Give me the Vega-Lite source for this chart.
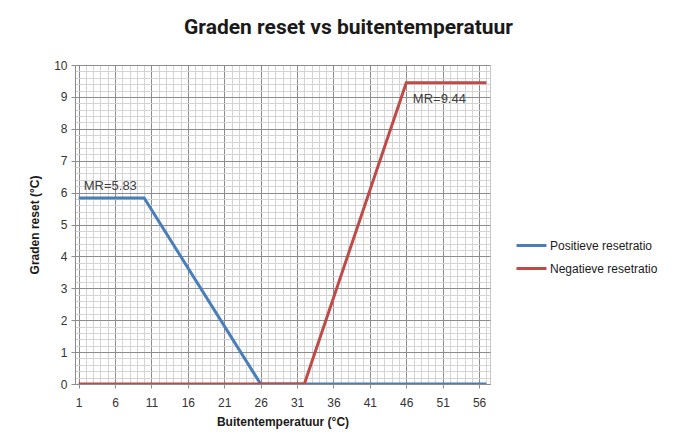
{
  "$schema": "https://vega.github.io/schema/vega-lite/v6.json",
  "width": 415,
  "height": 319,
  "autosize": {"type": "none"},
  "padding": {"left": 75, "top": 65, "right": 185, "bottom": 59},
  "background": "white",
  "title": {
    "text": "Graden reset vs buitentemperatuur",
    "font": "Roboto",
    "fontSize": 21,
    "fontWeight": "bold",
    "color": "#1a1a1a",
    "anchor": "middle",
    "frame": "group",
    "dx": 66,
    "offset": 21
  },
  "config": {
    "view": {"stroke": "#c8c8c8", "strokeWidth": 1},
    "axis": {
      "labelFont": "Liberation Sans",
      "labelFontSize": 12,
      "labelColor": "#333333",
      "titleFont": "Liberation Sans",
      "titleFontSize": 12,
      "titleFontWeight": "bold",
      "titleColor": "#1a1a1a",
      "domainColor": "#8c8c8c",
      "tickColor": "#8c8c8c"
    }
  },
  "datasets": {
    "lines": [
      {"temp": 1, "reset": 5.83, "serie": "Positieve resetratio"},
      {"temp": 10, "reset": 5.83, "serie": "Positieve resetratio"},
      {"temp": 26, "reset": 0, "serie": "Positieve resetratio"},
      {"temp": 57, "reset": 0, "serie": "Positieve resetratio"},
      {"temp": 1, "reset": 0, "serie": "Negatieve resetratio"},
      {"temp": 32, "reset": 0, "serie": "Negatieve resetratio"},
      {"temp": 46, "reset": 9.44, "serie": "Negatieve resetratio"},
      {"temp": 57, "reset": 9.44, "serie": "Negatieve resetratio"}
    ],
    "labels": [
      {"temp": 1.7, "reset": 6.2, "label": "MR=5.83"},
      {"temp": 46.9, "reset": 8.93, "label": "MR=9.44"}
    ]
  },
  "layer": [
    {
      "data": {"name": "lines"},
      "mark": {"type": "line", "strokeWidth": 3, "clip": true},
      "encoding": {
        "x": {
          "field": "temp",
          "type": "quantitative",
          "scale": {"domain": [0.5, 57.5], "nice": false, "zero": false},
          "axis": {
            "title": "Buitentemperatuur (°C)",
            "values": [1,2,3,4,5,6,7,8,9,10,11,12,13,14,15,16,17,18,19,20,21,22,23,24,25,26,27,28,29,30,31,32,33,34,35,36,37,38,39,40,41,42,43,44,45,46,47,48,49,50,51,52,53,54,55,56,57],
            "tickCount": 200,
            "labelExpr": "(datum.value - 1) % 5 === 0 ? format(datum.value, 'd') : ''",
            "labelPadding": 9,
            "labelFlush": false,
            "labelOverlap": false,
            "tickSize": 4,
            "tickColor": {"condition": {"test": "(datum.value - 1) % 5 === 0", "value": "#8c8c8c"}, "value": "transparent"},
            "gridColor": {"condition": {"test": "(datum.value - 1) % 5 === 0", "value": "#8c8c8c"}, "value": "#d4d4d4"},
            "gridWidth": 1,
            "gridOpacity": 1,
            "titlePadding": 8
          }
        },
        "y": {
          "field": "reset",
          "type": "quantitative",
          "scale": {"domain": [0, 10], "nice": false},
          "axis": {
            "title": "Graden reset (°C)",
            "values": [0,0.2,0.4,0.6,0.8,1,1.2,1.4,1.6,1.8,2,2.2,2.4,2.6,2.8,3,3.2,3.4,3.6,3.8,4,4.2,4.4,4.6,4.8,5,5.2,5.4,5.6,5.8,6,6.2,6.4,6.6,6.8,7,7.2,7.4,7.6,7.8,8,8.2,8.4,8.6,8.8,9,9.2,9.4,9.6,9.8,10],
            "tickCount": 200,
            "labelExpr": "abs(datum.value - round(datum.value)) < 0.001 ? format(datum.value, 'd') : ''",
            "labelPadding": 4,
            "labelFlush": false,
            "labelOverlap": false,
            "tickSize": 4,
            "tickColor": {"condition": {"test": "abs(datum.value - round(datum.value)) < 0.001", "value": "#8c8c8c"}, "value": "transparent"},
            "gridColor": {"condition": {"test": "abs(datum.value - round(datum.value)) < 0.001", "value": "#8c8c8c"}, "value": "#d4d4d4"},
            "gridWidth": 1,
            "gridOpacity": 1,
            "titlePadding": 12
          }
        },
        "color": {
          "field": "serie",
          "type": "nominal",
          "scale": {"domain": ["Positieve resetratio", "Negatieve resetratio"], "range": ["#4a7ebb", "#be4b48"]},
          "legend": {
            "title": null,
            "orient": "none",
            "legendX": 440,
            "legendY": 164,
            "labelFont": "Liberation Sans",
            "labelFontSize": 12,
            "labelColor": "#1a1a1a",
            "symbolType": "stroke",
            "symbolStrokeWidth": 3,
            "symbolSize": 900,
            "labelOffset": 2,
            "rowPadding": 0
          }
        }
      }
    },
    {
      "data": {"name": "labels"},
      "mark": {"type": "text", "align": "left", "baseline": "middle", "font": "Liberation Sans", "fontSize": 13, "color": "#404040"},
      "encoding": {
        "x": {"field": "temp", "type": "quantitative"},
        "y": {"field": "reset", "type": "quantitative"},
        "text": {"field": "label"}
      }
    }
  ]
}
